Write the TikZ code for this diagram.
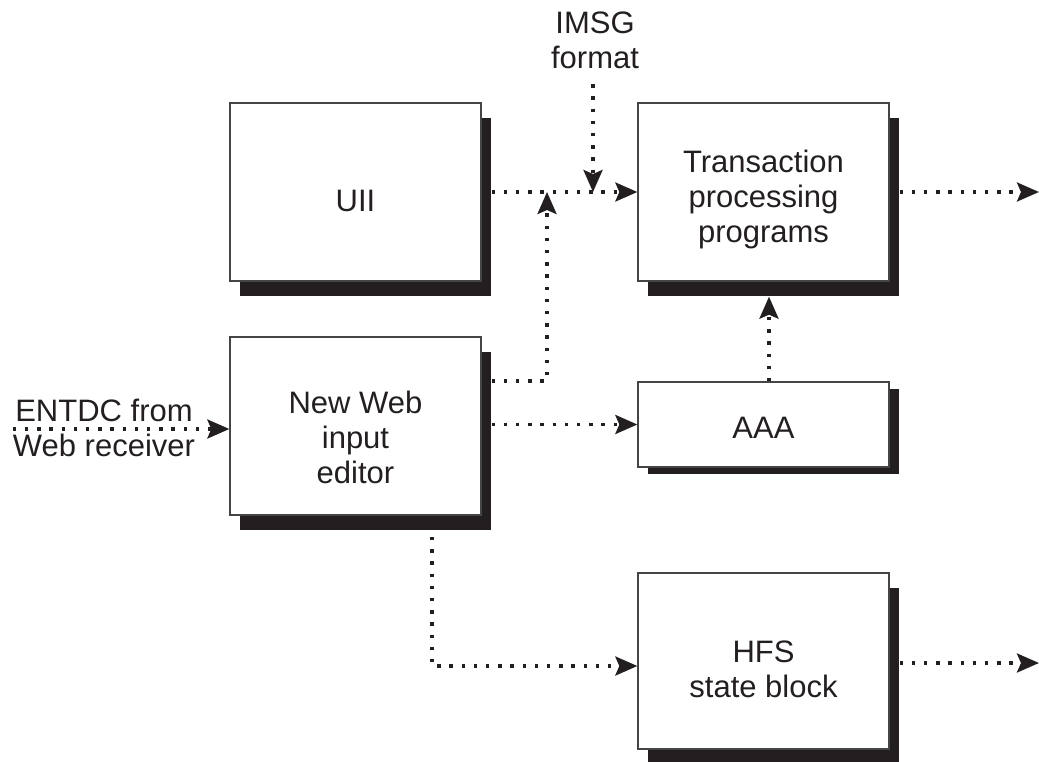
\documentclass[tikz,border=0pt]{standalone}
\usepackage{fontspec}
\setmainfont{Liberation Sans}
\usetikzlibrary{arrows.meta,shadows}
\definecolor{ink}{HTML}{231F20}
\definecolor{rim}{HTML}{454545}
% invisible strut that pushes a block's text a little downwards
\newcommand{\tbump}[1]{\rule{0pt}{#1pt}}
\begin{document}
\begin{tikzpicture}[x=1pt,y=-1pt,
  font=\fontsize{31}{35}\selectfont, text=ink,
  block/.style={draw=rim, line width=1.3pt, fill=white, minimum width=251pt,
    align=center, inner sep=0pt},
  tall/.style={block, minimum height=178pt,
    drop shadow={shadow xshift=10pt, shadow yshift=-14.5pt, fill=ink, opacity=1}},
  flat/.style={block, minimum height=85pt,
    drop shadow={shadow xshift=10pt, shadow yshift=-7pt, fill=ink, opacity=1}},
  flow/.style={draw=ink, line width=3.4pt, dash pattern=on 3.4pt off 8.8pt,
    -{Stealth[length=22pt, width=19pt, inset=4pt]}},
  caption/.style={align=center, inner sep=0pt}
]
\useasboundingbox (0,0) rectangle (1039,761);

% blocks
\node[tall] (uii) at (355.5,192) {\tbump{40}UII};
\node[tall] (tpp) at (763.5,192) {\tbump{38}Transaction\\processing\\programs};
\node[tall] (nw)  at (355.5,426) {\tbump{46}New Web\\input\\editor};
\node[flat] (aaa) at (763.5,424.5) {\tbump{28}AAA};
\node[tall, minimum height=176pt] (hfs) at (763.5,661) {\tbump{39}HFS\\state block};

% free-standing captions
\node[caption] (imsg)  at (595,40.5) {IMSG\\format};
\node[caption] (entdc) at (104,428) {ENTDC from\\Web receiver};

% loose ends and bends
\coordinate (imsgTip) at (593,192);
\coordinate (jog) at (547,381);
\coordinate (dropTop) at (432,537);
\coordinate (tppOut) at (1039,192);
\coordinate (hfsOut) at (1039,663);

% connectors
\draw[flow] ([xshift=10pt]uii.east) -- (tpp.west);
\draw[flow] ([yshift=-15pt]imsg.south -| imsgTip) -- (imsgTip);
\draw[flow] ([xshift=10pt]nw.east |- jog) -- (jog) -- (jog |- uii.east);
\draw[flow] ([xshift=10pt]nw.east |- aaa.west) -- (aaa.west);
\draw[flow] ([yshift=-3pt]entdc.west |- nw.west) -- ([yshift=-3pt]nw.west);
\draw[flow] ([xshift=5.5pt]aaa.north) -- ([xshift=5.5pt,yshift=-15pt]tpp.south);
\draw[flow] (dropTop) |- ([yshift=-5pt]hfs.west);
\draw[flow] ([xshift=10pt]tpp.east) -- (tppOut);
\draw[flow] ([xshift=10pt,yshift=-2pt]hfs.east) -- (hfsOut);
\end{tikzpicture}
\end{document}
